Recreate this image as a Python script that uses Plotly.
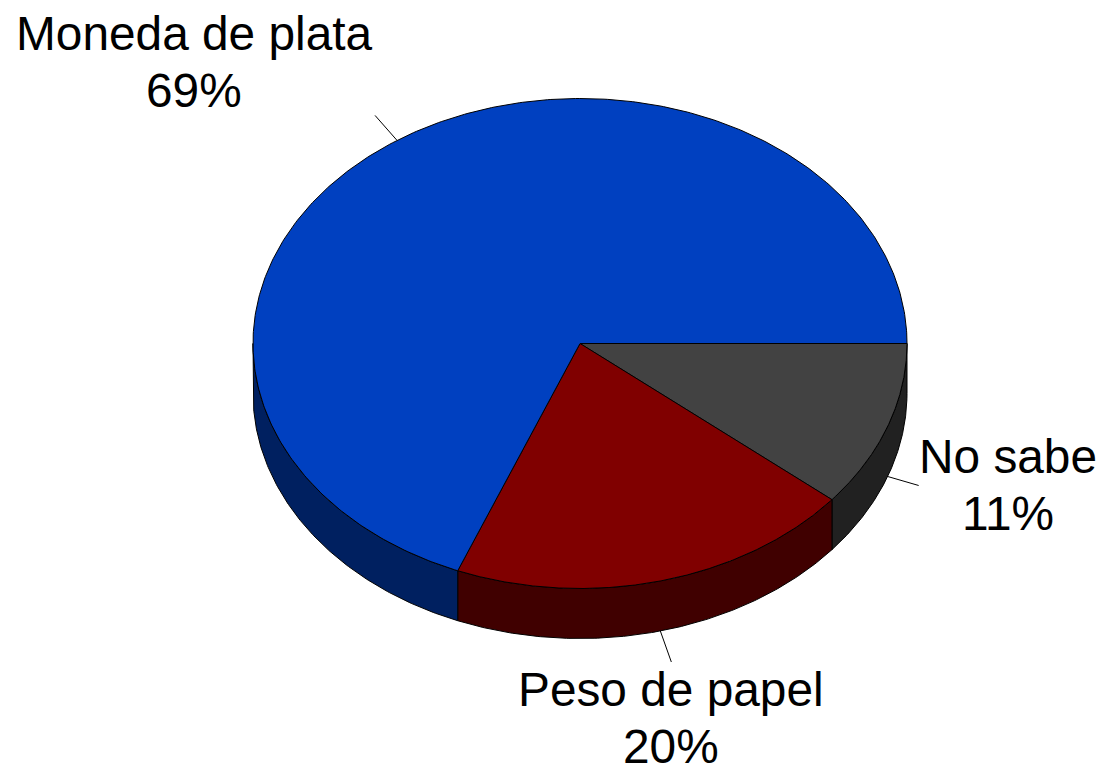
import numpy as np
import plotly.graph_objects as go

# Data
categories = ["No sabe", "Peso de papel", "Moneda de plata"]
shares = [11, 20.1, 68.9]
pct_labels = ["11%", "20%", "69%"]
top_colors = ["#424242", "#800000", "#0040C0"]
side_colors = ["#212121", "#400000", "#002060"]

# Pie projection in the page's pixel space
CX, CY, RX, RY, DEPTH = 580, 343.5, 327, 245, 50
leader_ext = [(31, 9), (11, 31), (-22, -25)]
label_pos = [(1008, 456.5, 513.5), (671, 689, 746), (194, 33.5, 90.5)]


def ell(t_deg, dy=0.0):
    t = np.radians(t_deg)
    return CX + RX * np.cos(t), CY + RY * np.sin(t) + dy


fig = go.Figure()
edges = np.cumsum([0] + shares) * 3.6


def poly(xs, ys, fill):
    fig.add_trace(go.Scatter(
        x=xs, y=ys, mode="lines", fill="toself", fillcolor=fill,
        line=dict(color="#000000", width=1), hoverinfo="skip", showlegend=False,
    ))


# Side walls (only the front half of the rim is visible)
for i in range(len(shares)):
    a, b = edges[i], min(edges[i + 1], 180)
    if a >= 180:
        continue
    t = np.linspace(a, b, 160)
    x1, y1 = ell(t)
    x2, y2 = ell(t[::-1], DEPTH)
    poly(np.r_[x1, x2, x1[0]], np.r_[y1, y2, y1[0]], side_colors[i])

# Top faces
for i in range(len(shares)):
    t = np.linspace(edges[i], edges[i + 1], 400)
    x, y = ell(t)
    poly(np.r_[CX, x, CX], np.r_[CY, y, CY], top_colors[i])

# Leader lines, from slice mid-angle on the rim
for i in range(len(shares)):
    mid = (edges[i] + edges[i + 1]) / 2
    x0, y0 = ell(mid, DEPTH if mid < 180 else 0)
    ex, ey = leader_ext[i]
    fig.add_trace(go.Scatter(
        x=[x0, x0 + ex], y=[y0, y0 + ey], mode="lines",
        line=dict(color="#000000", width=1), hoverinfo="skip", showlegend=False,
    ))

# Labels
font = dict(family="Liberation Sans, Arial, sans-serif", size=47.8, color="#000000")
for name, pct, (lx, y1, y2) in zip(categories, pct_labels, label_pos):
    fig.add_annotation(x=lx, y=y1, text=name, showarrow=False, font=font,
                       xanchor="center", yanchor="middle")
    fig.add_annotation(x=lx, y=y2, text=pct, showarrow=False, font=font,
                       xanchor="center", yanchor="middle")

fig.update_layout(
    width=1104, height=767, autosize=False,
    margin=dict(l=0, r=0, t=0, b=0),
    paper_bgcolor="#ffffff", plot_bgcolor="#ffffff",
    xaxis=dict(range=[0, 1104], visible=False, fixedrange=True),
    yaxis=dict(range=[767, 0], visible=False, fixedrange=True),
)
fig.write_html(
    "out.html",
    config=dict(displayModeBar=False),
    post_script="document.body.style.margin='0';document.body.style.overflow='hidden';",
)
